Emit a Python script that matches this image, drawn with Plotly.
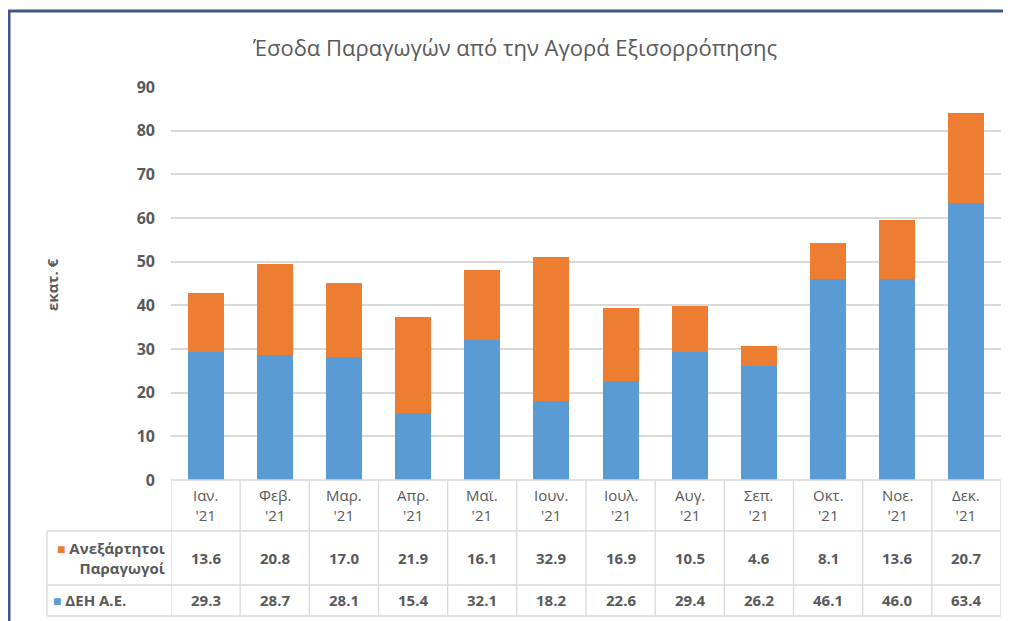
import plotly.graph_objects as go

months = ["Ιαν.", "Φεβ.", "Μαρ.", "Απρ.", "Μαϊ.", "Ιουν.", "Ιουλ.", "Αυγ.", "Σεπ.", "Οκτ.", "Νοε.", "Δεκ."]
year_label = "'21"
dei = [29.3, 28.7, 28.1, 15.4, 32.1, 18.2, 22.6, 29.4, 26.2, 46.1, 46.0, 63.4]
indep = [13.6, 20.8, 17.0, 21.9, 16.1, 32.9, 16.9, 10.5, 4.6, 8.1, 13.6, 20.7]
y_ticks = [0, 10, 20, 30, 40, 50, 60, 70, 80, 90]

title = "Έσοδα Παραγωγών από την Αγορά Εξισορρόπησης"
y_title = "εκατ. €"
name_dei = "ΔΕΗ Α.Ε."
name_indep = "Ανεξάρτητοι Παραγωγοί"

BLUE = "#5B9BD5"
ORANGE = "#ED7D31"
TXT = "#595959"
GRID = "#D9D9D9"
FONT = "Open Sans"

OFF = 8  # page body margin
W, H = 1011 - OFF, 621 - OFF
PLOT_L, PLOT_R, PLOT_T, PLOT_B = 171, 1001, 87, 480  # in reference pixels
L = PLOT_L - OFF
T = PLOT_T - OFF
R = W - (PLOT_R - OFF)
B = H - (PLOT_B - OFF)
PW, PH = W - L - R, H - T - B


def px_x(p):
    return (p - PLOT_L) / PW


def px_y(p):
    return (PLOT_B - p) / PH


fig = go.Figure()
fig.add_trace(go.Bar(x=months, y=dei, name=name_dei, marker_color=BLUE,
                     marker_line_width=0))
fig.add_trace(go.Bar(x=months, y=indep, name=name_indep, marker_color=ORANGE,
                     marker_line_width=0))

shapes = []
annotations = []

# frame border (top & left)
shapes.append(dict(type="line", xref="paper", yref="paper", x0=px_x(8), x1=px_x(1015),
                   y0=px_y(11), y1=px_y(11), line=dict(color="#3F5683", width=3)))
shapes.append(dict(type="line", xref="paper", yref="paper", x0=px_x(9), x1=px_x(9),
                   y0=px_y(10), y1=px_y(625), line=dict(color="#3F5683", width=3)))

# data table grid
row_lines = [480, 531, 585, 616]
tcol = dict(color=GRID, width=1.3)
for i, rl in enumerate(row_lines):
    x0 = px_x(47) if i >= 1 else 0
    shapes.append(dict(type="line", xref="paper", yref="paper", x0=x0, x1=1,
                       y0=px_y(rl), y1=px_y(rl), line=tcol))
for i in range(len(months) + 1):
    shapes.append(dict(type="line", xref="x", yref="paper", x0=i - 0.5, x1=i - 0.5,
                       y0=px_y(480), y1=px_y(616), line=tcol))
shapes.append(dict(type="line", xref="paper", yref="paper", x0=px_x(47), x1=px_x(47),
                   y0=px_y(531), y1=px_y(616), line=tcol))


def ann(**kw):
    kw.setdefault("showarrow", False)
    kw.setdefault("xanchor", "center")
    kw.setdefault("yanchor", "middle")
    annotations.append(kw)


for m, a, b in zip(months, indep, dei):
    ann(x=m, xref="x", y=px_y(505), yref="paper", text=f"{m}<br>{year_label}",
        font=dict(family=FONT, size=15, color=TXT))
    ann(x=m, xref="x", y=px_y(558), yref="paper", text=f"<b>{a:.1f}</b>",
        font=dict(family=FONT, size=15, color=TXT))
    ann(x=m, xref="x", y=px_y(600), yref="paper", text=f"<b>{b:.1f}</b>",
        font=dict(family=FONT, size=15, color=TXT))

w1, w2 = name_indep.split(" ")
ann(x=px_x(167), xref="paper", y=px_y(558), yref="paper", xanchor="right", align="right",
    text=f"<span style='color:{ORANGE};font-size:14px'>■</span><b> {w1}</b><br><b>{w2}</b>",
    font=dict(family=FONT, size=15, color=TXT))
ann(x=px_x(51), xref="paper", y=px_y(600), yref="paper", xanchor="left", align="left",
    text=f"<span style='color:{BLUE};font-size:14px'>■</span><b> {name_dei}</b>",
    font=dict(family=FONT, size=15, color=TXT))

# y axis title
ann(x=px_x(52), xref="paper", y=px_y(284), yref="paper", text=f"<b>{y_title}</b>",
    textangle=-90, font=dict(family=FONT, size=15, color=TXT))

# title
ann(x=px_x(515), xref="paper", y=px_y(47), yref="paper", text=title,
    font=dict(family=FONT, size=22, color=TXT))

fig.update_layout(
    width=W, height=H,
    margin=dict(l=L, r=R, t=T, b=B, pad=0),
    barmode="stack", bargap=0.48,
    plot_bgcolor="white", paper_bgcolor="white",
    showlegend=False,
    shapes=shapes, annotations=annotations,
    xaxis=dict(showticklabels=False, showgrid=False, zeroline=False,
               showline=False, ticks="", range=[-0.5, len(months) - 0.5]),
    yaxis=dict(range=[0, 90], tickvals=y_ticks, showgrid=True, gridcolor=GRID,
               gridwidth=1.5, zeroline=False, showline=False, ticks="",
               ticklabelstandoff=15,
               tickfont=dict(family=FONT, size=16, color=TXT, weight="bold")),
)

fig.write_html("out.html")
